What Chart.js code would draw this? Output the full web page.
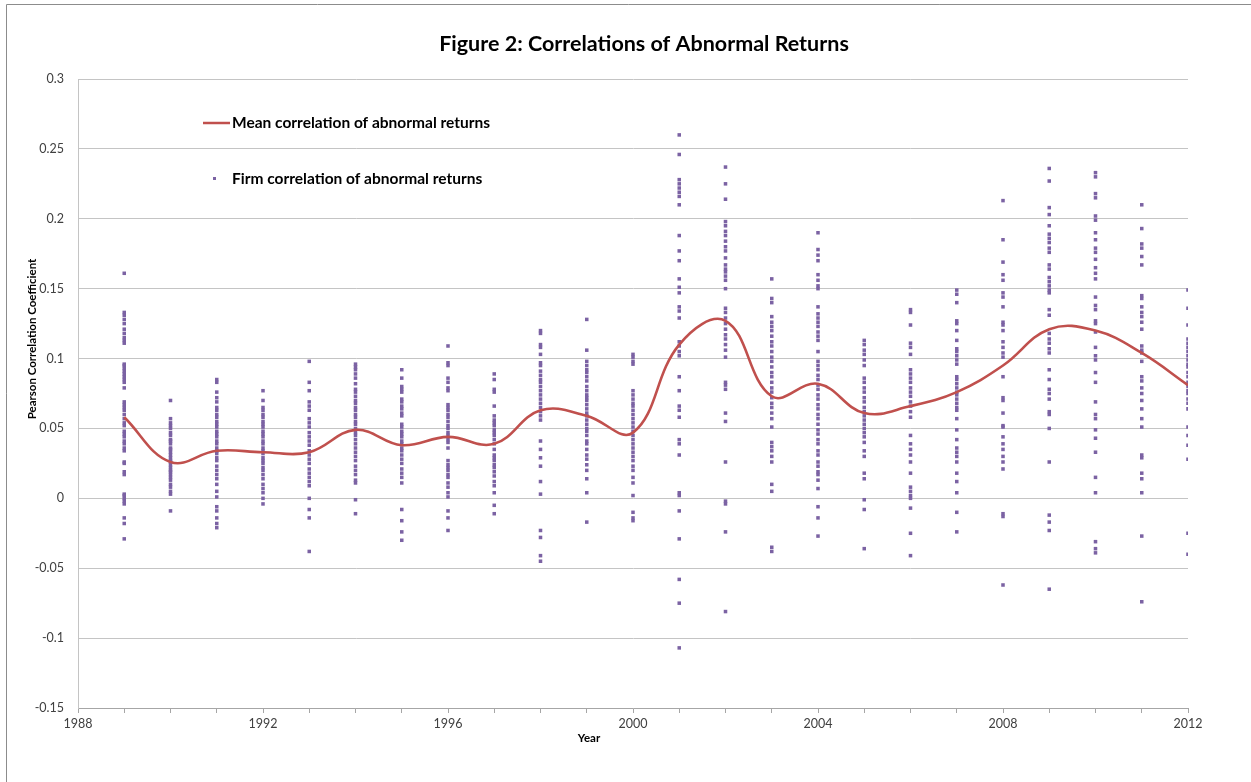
<!DOCTYPE html>
<html>
<head>
<meta charset="utf-8">
<script src="https://cdn.jsdelivr.net/npm/chart.js@4/dist/chart.umd.min.js"></script>
<style>
  html, body { margin: 0; padding: 0; background: #fff; }
  #wrap { width: 1251px; height: 782px; }
</style>
</head>
<body>
<div id="wrap"><canvas id="chart"></canvas></div>
<script>
var years = [1989, 1990, 1991, 1992, 1993, 1994, 1995, 1996, 1997, 1998, 1999, 2000,
             2001, 2002, 2003, 2004, 2005, 2006, 2007, 2008, 2009, 2010, 2011, 2012];

var meanCorr = [0.058, 0.026, 0.034, 0.033, 0.033, 0.049, 0.038, 0.044, 0.039, 0.063, 0.059, 0.047,
                0.110, 0.127, 0.073, 0.082, 0.061, 0.066, 0.076, 0.095, 0.121, 0.120, 0.104, 0.081];

var yTicks = [0.3, 0.25, 0.2, 0.15, 0.1, 0.05, 0, -0.05, -0.1, -0.15];

var firm1989 = [0.161, 0.133, 0.131, 0.128, 0.125, 0.121, 0.118, 0.115, 0.113, 0.111, 0.096, 0.095, 0.093, 0.091, 0.089, 0.087, 0.085, 0.083, 0.079, 0.069, 0.067, 0.065, 0.063, 0.060, 0.057, 0.054, 0.052, 0.048, 0.046, 0.044, 0.041, 0.039, 0.036, 0.034, 0.026, 0.025, 0.019, 0.017, 0.003, 0.002, 0.000, -0.002, -0.004, -0.014, -0.018, -0.029];
var firm1990 = [0.070, 0.057, 0.054, 0.052, 0.050, 0.047, 0.045, 0.042, 0.041, 0.039, 0.036, 0.035, 0.033, 0.031, 0.029, 0.027, 0.026, 0.024, 0.022, 0.020, 0.019, 0.017, 0.015, 0.013, 0.010, 0.008, 0.005, 0.003, -0.009];
var firm1991 = [0.085, 0.083, 0.076, 0.072, 0.069, 0.065, 0.063, 0.060, 0.058, 0.055, 0.053, 0.051, 0.048, 0.046, 0.044, 0.041, 0.039, 0.036, 0.034, 0.032, 0.029, 0.027, 0.023, 0.020, 0.017, 0.014, 0.010, 0.005, 0.001, -0.006, -0.009, -0.014, -0.018, -0.021];
var firm1992 = [0.077, 0.070, 0.065, 0.063, 0.060, 0.058, 0.055, 0.053, 0.051, 0.048, 0.046, 0.044, 0.041, 0.039, 0.036, 0.034, 0.032, 0.029, 0.027, 0.025, 0.022, 0.020, 0.017, 0.014, 0.010, 0.007, 0.004, 0.000, -0.004];
var firm1993 = [0.098, 0.083, 0.077, 0.069, 0.066, 0.063, 0.057, 0.054, 0.051, 0.047, 0.044, 0.041, 0.038, 0.034, 0.031, 0.028, 0.025, 0.021, 0.018, 0.015, 0.012, 0.009, 0.000, -0.008, -0.014, -0.038];
var firm1994 = [0.096, 0.094, 0.092, 0.089, 0.086, 0.082, 0.078, 0.076, 0.073, 0.070, 0.068, 0.065, 0.063, 0.060, 0.058, 0.055, 0.053, 0.050, 0.047, 0.045, 0.042, 0.039, 0.036, 0.033, 0.030, 0.027, 0.023, 0.020, 0.017, 0.013, 0.011, -0.001, -0.011];
var firm1995 = [0.092, 0.086, 0.080, 0.078, 0.076, 0.071, 0.069, 0.066, 0.064, 0.061, 0.059, 0.053, 0.051, 0.048, 0.046, 0.044, 0.041, 0.039, 0.036, 0.034, 0.031, 0.028, 0.025, 0.021, 0.018, 0.015, 0.011, -0.008, -0.016, -0.024, -0.030];
var firm1996 = [0.109, 0.097, 0.095, 0.086, 0.083, 0.079, 0.077, 0.067, 0.065, 0.063, 0.060, 0.058, 0.055, 0.052, 0.050, 0.047, 0.045, 0.042, 0.040, 0.036, 0.027, 0.024, 0.022, 0.020, 0.017, 0.015, 0.011, 0.008, 0.004, 0.001, -0.009, -0.014, -0.023];
var firm1997 = [0.089, 0.085, 0.078, 0.076, 0.066, 0.059, 0.056, 0.054, 0.052, 0.049, 0.047, 0.045, 0.042, 0.039, 0.035, 0.031, 0.029, 0.027, 0.024, 0.022, 0.019, 0.016, 0.012, 0.009, 0.004, -0.005, -0.011];
var firm1998 = [0.120, 0.118, 0.110, 0.108, 0.103, 0.097, 0.095, 0.091, 0.088, 0.085, 0.083, 0.080, 0.077, 0.074, 0.071, 0.068, 0.065, 0.062, 0.059, 0.056, 0.041, 0.035, 0.029, 0.023, 0.012, 0.003, -0.023, -0.028, -0.041, -0.045];
var firm1999 = [0.128, 0.106, 0.098, 0.095, 0.092, 0.090, 0.087, 0.084, 0.080, 0.077, 0.074, 0.072, 0.070, 0.067, 0.064, 0.061, 0.059, 0.056, 0.053, 0.050, 0.048, 0.045, 0.041, 0.039, 0.035, 0.031, 0.028, 0.024, 0.020, 0.014, 0.004, -0.017];
var firm2000 = [0.103, 0.101, 0.098, 0.096, 0.077, 0.074, 0.071, 0.068, 0.066, 0.063, 0.060, 0.057, 0.054, 0.051, 0.048, 0.045, 0.042, 0.039, 0.036, 0.033, 0.030, 0.027, 0.023, 0.020, 0.015, 0.011, 0.002, -0.010, -0.014, -0.016];
var firm2001 = [0.260, 0.246, 0.228, 0.225, 0.222, 0.219, 0.216, 0.210, 0.188, 0.177, 0.170, 0.157, 0.151, 0.147, 0.137, 0.134, 0.129, 0.112, 0.109, 0.105, 0.102, 0.087, 0.077, 0.066, 0.063, 0.058, 0.042, 0.039, 0.031, 0.004, 0.002, -0.009, -0.029, -0.058, -0.075, -0.107];
var firm2002 = [0.237, 0.225, 0.214, 0.198, 0.195, 0.191, 0.188, 0.184, 0.180, 0.177, 0.172, 0.167, 0.164, 0.162, 0.159, 0.156, 0.150, 0.136, 0.133, 0.129, 0.125, 0.121, 0.117, 0.114, 0.110, 0.106, 0.101, 0.083, 0.081, 0.078, 0.061, 0.055, 0.026, -0.002, -0.004, -0.024, -0.081];
var firm2003 = [0.157, 0.143, 0.140, 0.130, 0.126, 0.123, 0.120, 0.116, 0.112, 0.109, 0.105, 0.101, 0.098, 0.094, 0.090, 0.087, 0.083, 0.079, 0.076, 0.072, 0.068, 0.065, 0.061, 0.057, 0.051, 0.040, 0.037, 0.034, 0.030, 0.026, 0.010, 0.005, -0.035, -0.038];
var firm2004 = [0.190, 0.178, 0.174, 0.170, 0.160, 0.156, 0.152, 0.150, 0.137, 0.132, 0.129, 0.126, 0.123, 0.119, 0.116, 0.113, 0.105, 0.098, 0.095, 0.092, 0.088, 0.085, 0.081, 0.078, 0.074, 0.071, 0.067, 0.064, 0.060, 0.057, 0.053, 0.049, 0.046, 0.042, 0.039, 0.034, 0.031, 0.026, 0.023, 0.019, 0.017, 0.013, 0.007, -0.006, -0.014, -0.027];
var firm2005 = [0.113, 0.110, 0.106, 0.103, 0.099, 0.095, 0.086, 0.083, 0.079, 0.076, 0.072, 0.069, 0.065, 0.062, 0.059, 0.056, 0.053, 0.050, 0.047, 0.044, 0.040, 0.034, 0.030, 0.018, 0.014, -0.001, -0.008, -0.036];
var firm2006 = [0.135, 0.133, 0.124, 0.111, 0.108, 0.103, 0.092, 0.089, 0.086, 0.083, 0.079, 0.076, 0.073, 0.069, 0.066, 0.062, 0.058, 0.045, 0.039, 0.035, 0.031, 0.026, 0.018, 0.008, 0.005, 0.002, 0.000, -0.007, -0.025, -0.041];
var firm2007 = [0.149, 0.146, 0.140, 0.127, 0.125, 0.120, 0.113, 0.107, 0.105, 0.102, 0.099, 0.096, 0.087, 0.085, 0.082, 0.079, 0.076, 0.074, 0.071, 0.068, 0.065, 0.063, 0.057, 0.049, 0.042, 0.036, 0.033, 0.030, 0.026, 0.018, 0.012, 0.004, -0.010, -0.024];
var firm2008 = [0.213, 0.185, 0.169, 0.160, 0.156, 0.147, 0.144, 0.137, 0.126, 0.124, 0.120, 0.112, 0.108, 0.104, 0.101, 0.087, 0.072, 0.070, 0.061, 0.052, 0.051, 0.044, 0.039, 0.035, 0.030, 0.026, 0.021, -0.011, -0.013, -0.062];
var firm2009 = [0.236, 0.227, 0.208, 0.203, 0.195, 0.189, 0.186, 0.183, 0.179, 0.176, 0.167, 0.164, 0.158, 0.155, 0.152, 0.149, 0.147, 0.135, 0.131, 0.118, 0.114, 0.111, 0.107, 0.104, 0.092, 0.085, 0.078, 0.075, 0.071, 0.062, 0.060, 0.050, 0.026, -0.012, -0.017, -0.023, -0.065];
var firm2010 = [0.233, 0.230, 0.218, 0.215, 0.202, 0.199, 0.190, 0.185, 0.179, 0.176, 0.171, 0.165, 0.161, 0.157, 0.144, 0.138, 0.135, 0.127, 0.125, 0.119, 0.108, 0.102, 0.099, 0.090, 0.083, 0.069, 0.060, 0.057, 0.049, 0.043, 0.033, 0.015, 0.004, -0.031, -0.036, -0.039];
var firm2011 = [0.210, 0.193, 0.182, 0.179, 0.173, 0.167, 0.145, 0.143, 0.137, 0.133, 0.130, 0.126, 0.121, 0.109, 0.106, 0.104, 0.098, 0.087, 0.084, 0.079, 0.075, 0.070, 0.064, 0.057, 0.051, 0.031, 0.029, 0.018, 0.014, 0.004, -0.027, -0.074];
var firm2012 = [0.149, 0.136, 0.124, 0.114, 0.111, 0.108, 0.105, 0.102, 0.099, 0.096, 0.094, 0.090, 0.087, 0.083, 0.080, 0.077, 0.075, 0.071, 0.068, 0.064, 0.051, 0.045, 0.038, 0.028, -0.025, -0.040];

var firmByYear = [firm1989, firm1990, firm1991, firm1992, firm1993, firm1994, firm1995, firm1996,
                  firm1997, firm1998, firm1999, firm2000, firm2001, firm2002, firm2003, firm2004,
                  firm2005, firm2006, firm2007, firm2008, firm2009, firm2010, firm2011, firm2012];

var FONT = "Lato, 'Open Sans', 'DejaVu Sans', sans-serif";
var RED = "#c0504d";
var PURPLE = "#7b62a3";
var GRID = "#c4c4c4";

// build datasets from the arrays above
var linePoints = years.map(function(y, i) { return { x: y, y: meanCorr[i] }; });
var firmPoints = [];
years.forEach(function(y, i) {
  firmByYear[i].forEach(function(v) { firmPoints.push({ x: y, y: v }); });
});

// title, legend inside the plot, axis titles and the frame lines
var decorations = {
  id: "decorations",
  afterDraw: function(chart) {
    var ctx = chart.ctx;
    ctx.save();
    ctx.strokeStyle = "#8c8c8c";
    ctx.lineWidth = 1;
    ctx.beginPath();
    ctx.moveTo(6.5, 4.5);
    ctx.lineTo(1251, 4.5);
    ctx.moveTo(6.5, 4.5);
    ctx.lineTo(6.5, 782);
    ctx.stroke();

    ctx.fillStyle = "#000";
    ctx.textAlign = "center";
    ctx.textBaseline = "middle";
    ctx.font = "bold 21.5px " + FONT;
    ctx.fillText("Figure 2: Correlations of Abnormal Returns", 644, 44);

    // legend
    ctx.textAlign = "left";
    ctx.font = "bold 15.5px " + FONT;
    ctx.strokeStyle = RED;
    ctx.lineWidth = 2.5;
    ctx.beginPath();
    ctx.moveTo(203, 123);
    ctx.lineTo(230, 123);
    ctx.stroke();
    ctx.fillText("Mean correlation of abnormal returns", 232, 123);
    ctx.fillStyle = PURPLE;
    ctx.fillRect(213, 177, 3, 3);
    ctx.fillStyle = "#000";
    ctx.fillText("Firm correlation of abnormal returns", 232, 179);

    // axis titles
    ctx.font = "bold 11.5px " + FONT;
    ctx.textAlign = "center";
    ctx.fillText("Year", 589, 738);
    ctx.translate(32, 339);
    ctx.rotate(-Math.PI / 2);
    ctx.fillText("Pearson Correlation Coefficient", 0, 0);
    ctx.restore();
  }
};

new Chart(document.getElementById("chart"), {
  type: "scatter",
  data: {
    datasets: [
      {
        label: "Mean correlation of abnormal returns",
        data: linePoints,
        showLine: true,
        borderColor: RED,
        backgroundColor: RED,
        borderWidth: 2.6,
        pointRadius: 0,
        tension: 0.4
      },
      {
        label: "Firm correlation of abnormal returns",
        data: firmPoints,
        pointStyle: "rect",
        pointRadius: 2.5,
        borderWidth: 0,
        backgroundColor: PURPLE,
        borderColor: PURPLE
      }
    ]
  },
  options: {
    responsive: true,
    maintainAspectRatio: false,
    animation: false,
    layout: { padding: { left: 6, top: 79, right: 63, bottom: 0 } },
    plugins: {
      legend: { display: false },
      title: { display: false },
      tooltip: { enabled: false }
    },
    scales: {
      x: {
        type: "linear",
        min: 1988,
        max: 2012,
        afterFit: function(scale) { scale.height = 74; },
        grid: { drawOnChartArea: false, drawTicks: true, tickLength: 5, color: "#a6a6a6" },
        border: { color: "#a6a6a6" },
        ticks: {
          stepSize: 1,
          autoSkip: false,
          maxTicksLimit: 40,
          maxRotation: 0,
          minRotation: 0,
          padding: 3,
          color: "#404040",
          font: { family: FONT, size: 12.5 },
          callback: function(v) { return v % 4 === 0 ? String(v) : ""; }
        }
      },
      y: {
        min: -0.15,
        max: 0.3,
        afterFit: function(scale) { scale.width = 72; },
        afterBuildTicks: function(scale) {
          scale.ticks = yTicks.map(function(v) { return { value: v }; });
        },
        grid: { color: GRID, drawTicks: false },
        border: { color: GRID },
        ticks: {
          padding: 14,
          color: "#404040",
          font: { family: FONT, size: 12.5 },
          callback: function(v) { return String(Number(v.toFixed(2))); }
        }
      }
    }
  },
  plugins: [decorations]
});
</script>
</body>
</html>
